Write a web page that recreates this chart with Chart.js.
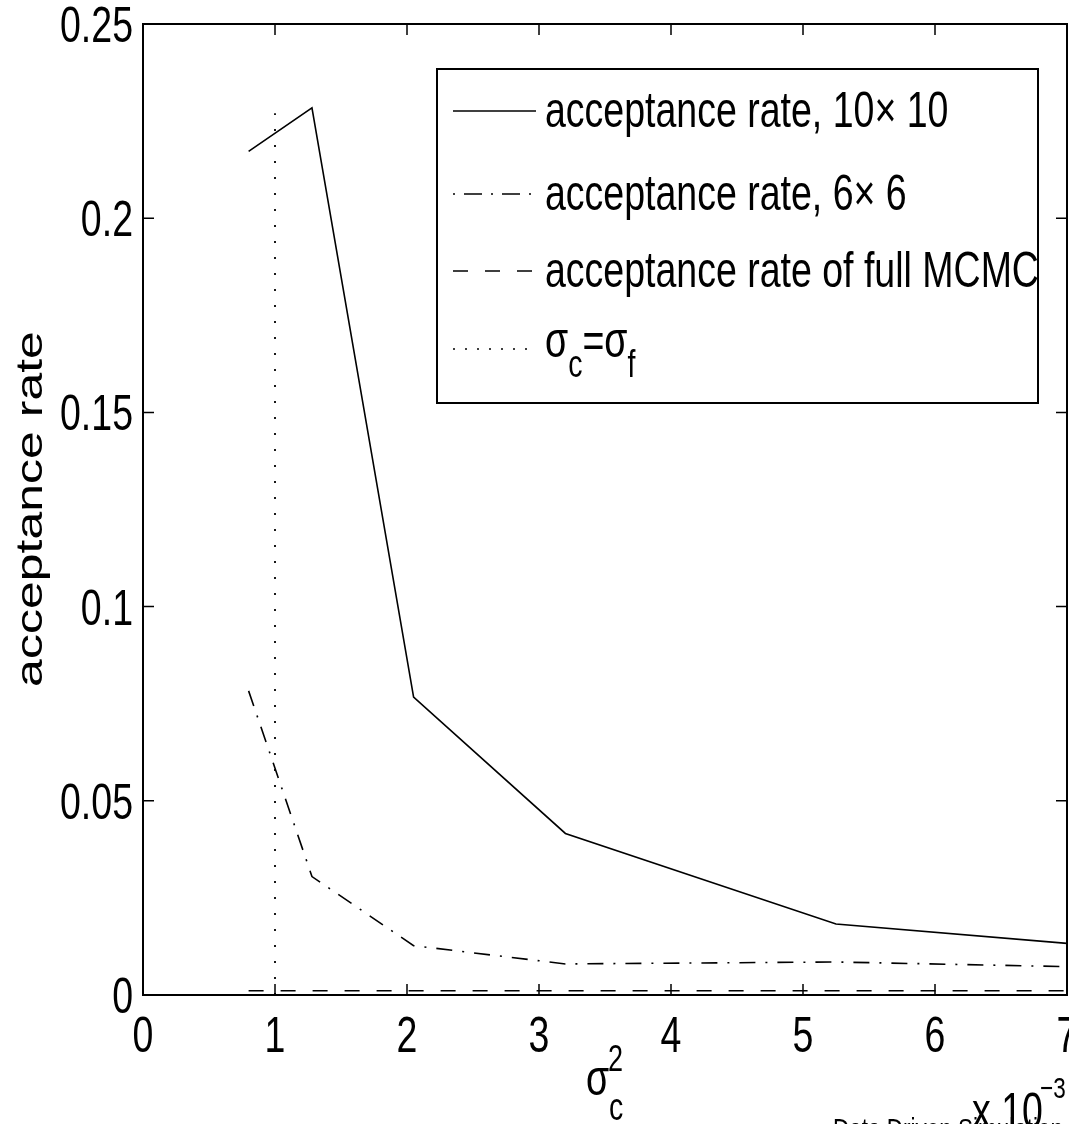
<!DOCTYPE html>
<html>
<head>
<meta charset="utf-8">
<title>acceptance rate</title>
<script src="https://cdn.jsdelivr.net/npm/chart.js@4.4.0/dist/chart.umd.min.js"></script>
<style>
  html, body { margin: 0; padding: 0; background: #fff; }
</style>
</head>
<body>
<canvas id="rateChart" width="1069" height="1124"></canvas>
<script>
// sigma_c^2 sample points, in units of 1e-3
const sigmaSq = [0.8, 1.28, 2.05, 3.2, 5.25, 7];
const rate10x10 = [0.2172, 0.2284, 0.0767, 0.0416, 0.0183, 0.0133];
const rate6x6 = [0.0783, 0.0305, 0.0127, 0.0080, 0.0085, 0.0073];

// full MCMC rate is flat over the whole range
const fullSigma = [0.8, 7];
const rateFull = [0.0011, 0.0011];

// marker for sigma_c = sigma_f
const equalSigma = [1, 1];
const equalRate = [0, 0.227];

const seriesNames = [
    "acceptance rate, 10\u00d7 10",
    "acceptance rate, 6\u00d7 6",
    "acceptance rate of full MCMC",
    "\u03c3_c=\u03c3_f",
];

const xTicks = [0, 1, 2, 3, 4, 5, 6, 7];
const xTickLabels = ["0", "1", "2", "3", "4", "5", "6", "7"];
const yTicks = [0, 0.05, 0.1, 0.15, 0.2, 0.25];
const yTickLabels = ["0", "0.05", "0.1", "0.15", "0.2", "0.25"];

const FONT = '"Liberation Sans", Arial, Helvetica, sans-serif';
const SX = 0.75; // narrow, condensed-looking lettering

const toPoints = (xs, ys) => xs.map((x, i) => ({ x: x, y: ys[i] }));

function measure(ctx, str, size) {
    ctx.save();
    ctx.font = size + "px " + FONT;
    const w = ctx.measureText(str).width * SX;
    ctx.restore();
    return w;
}

function squeezedText(ctx, str, x, y, size, align) {
    ctx.save();
    ctx.translate(x, y);
    ctx.scale(SX, 1);
    ctx.font = size + "px " + FONT;
    ctx.textAlign = align || "left";
    ctx.textBaseline = "alphabetic";
    ctx.fillStyle = "#000";
    ctx.fillText(str, 0, 0);
    ctx.restore();
    return measure(ctx, str, size);
}

// tiny TeX-ish renderer: handles _x and ^x
function richText(ctx, str, x, y, size) {
    let cx = x;
    for (let i = 0; i < str.length; i++) {
        const ch = str[i];
        if (ch === "_" && i + 1 < str.length) {
            cx += squeezedText(ctx, str[i + 1], cx, y + 20, size * 0.76);
            i++;
        } else if (ch === "^" && i + 1 < str.length) {
            cx += squeezedText(ctx, str[i + 1], cx, y - 24, size * 0.72);
            i++;
        } else {
            cx += squeezedText(ctx, ch, cx, y, size);
        }
    }
}

const legendDash = [[], [2, 9, 18, 9], [15, 17], [2, 10]];

const frameAndText = {
    id: "frameAndText",
    afterDraw(chart) {
        const ctx = chart.ctx;
        const area = chart.chartArea;
        const xs = chart.scales.x;
        const ys = chart.scales.y;

        ctx.save();
        ctx.strokeStyle = "#000";
        ctx.lineWidth = 2;
        ctx.setLineDash([]);
        ctx.strokeRect(area.left, area.top, area.right - area.left, area.bottom - area.top);

        // inward ticks on every side
        ctx.lineWidth = 1.5;
        ctx.beginPath();
        xTicks.forEach((v) => {
            const px = xs.getPixelForValue(v);
            ctx.moveTo(px, area.bottom);
            ctx.lineTo(px, area.bottom - 11);
            ctx.moveTo(px, area.top);
            ctx.lineTo(px, area.top + 11);
        });
        yTicks.forEach((v) => {
            const py = ys.getPixelForValue(v);
            ctx.moveTo(area.left, py);
            ctx.lineTo(area.left + 11, py);
            ctx.moveTo(area.right, py);
            ctx.lineTo(area.right - 11, py);
        });
        ctx.stroke();
        ctx.restore();

        xTicks.forEach((v, i) => {
            squeezedText(ctx, xTickLabels[i], xs.getPixelForValue(v), area.bottom + 57, 50, "center");
        });
        yTicks.forEach((v, i) => {
            squeezedText(ctx, yTickLabels[i], area.left - 10, ys.getPixelForValue(v) + 18, 50, "right");
        });

        // y axis title
        ctx.save();
        ctx.translate(42, 509);
        ctx.scale(SX, 1);
        ctx.rotate(-Math.PI / 2);
        ctx.font = "50px " + FONT;
        ctx.textAlign = "center";
        ctx.textBaseline = "alphabetic";
        ctx.fillStyle = "#000";
        ctx.fillText("acceptance rate", 0, 0);
        ctx.restore();

        // x axis title: sigma_c^2
        squeezedText(ctx, "\u03c3", 586, 1095, 50);
        squeezedText(ctx, "2", 608, 1071, 36);
        squeezedText(ctx, "c", 609, 1120, 38);

        squeezedText(ctx, "Data Driven Simulation", 833, 1139, 30);
        squeezedText(ctx, "x 10", 972, 1128, 50);
        squeezedText(ctx, "\u22123", 1040, 1098, 30);

        // legend box
        const box = { left: 437, top: 69, right: 1038, bottom: 403 };
        ctx.save();
        ctx.fillStyle = "#fff";
        ctx.fillRect(box.left, box.top, box.right - box.left, box.bottom - box.top);
        ctx.strokeStyle = "#000";
        ctx.lineWidth = 2;
        ctx.strokeRect(box.left, box.top, box.right - box.left, box.bottom - box.top);
        ctx.restore();

        const rows = [111, 194, 271, 349];
        chart.data.datasets.forEach((ds, i) => {
            const y = rows[i];
            ctx.save();
            ctx.strokeStyle = "#000";
            ctx.lineWidth = 1.6;
            ctx.setLineDash(legendDash[i]);
            ctx.beginPath();
            ctx.moveTo(453, y);
            ctx.lineTo(536, y);
            ctx.stroke();
            ctx.restore();
            if (i === 3) {
                richText(ctx, ds.label, 545, y + 8, 50);
            } else {
                squeezedText(ctx, ds.label, 545, y + 16, 50);
            }
        });
    },
};

const ctx = document.getElementById("rateChart").getContext("2d");

new Chart(ctx, {
    type: "line",
    data: {
        datasets: [
            {
                label: seriesNames[0],
                data: toPoints(sigmaSq, rate10x10),
                borderColor: "#000",
                borderWidth: 1.6,
                pointRadius: 0,
                tension: 0,
            },
            {
                label: seriesNames[1],
                data: toPoints(sigmaSq, rate6x6),
                borderColor: "#000",
                borderWidth: 1.6,
                borderDash: [16, 10, 2, 10],
                pointRadius: 0,
                tension: 0,
            },
            {
                label: seriesNames[2],
                data: toPoints(fullSigma, rateFull),
                borderColor: "#000",
                borderWidth: 1.6,
                borderDash: [15, 17],
                pointRadius: 0,
                tension: 0,
            },
            {
                label: seriesNames[3],
                data: toPoints(equalSigma, equalRate),
                borderColor: "#000",
                borderWidth: 1.8,
                borderDash: [2, 14],
                pointRadius: 0,
                tension: 0,
            },
        ],
    },
    options: {
        responsive: false,
        animation: false,
        devicePixelRatio: 1,
        layout: {
            autoPadding: false,
            padding: { left: 143, top: 24, right: 2, bottom: 129 },
        },
        plugins: {
            legend: { display: false },
            tooltip: { enabled: false },
        },
        scales: {
            x: {
                type: "linear",
                min: 0,
                max: 7,
                ticks: { display: false },
                grid: { display: false },
                border: { display: false },
                afterFit: (scale) => {
                    scale.height = 0;
                },
            },
            y: {
                type: "linear",
                min: 0,
                max: 0.25,
                ticks: { display: false },
                grid: { display: false },
                border: { display: false },
                afterFit: (scale) => {
                    scale.width = 0;
                },
            },
        },
    },
    plugins: [frameAndText],
});
</script>
</body>
</html>
